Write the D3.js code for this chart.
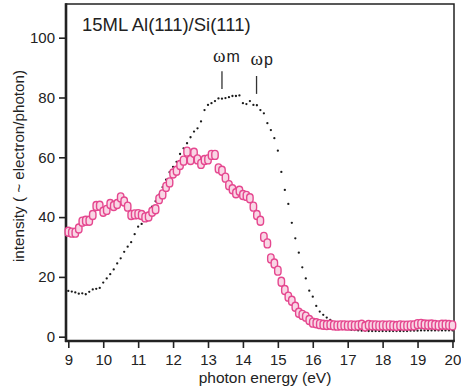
<!DOCTYPE html>
<html>
<head>
<meta charset="utf-8">
<script src="https://cdn.jsdelivr.net/npm/d3@7"></script>
<style>
  body { margin: 0; background: #fff; }
  text { font-family: Helvetica, Arial, "Liberation Sans", sans-serif; fill: #222; }
</style>
</head>
<body>
<svg id="chart" width="461" height="388"></svg>
<script>
// photon energy grid (eV)
const energy = [
  9.0, 9.1, 9.2, 9.3, 9.4, 9.5, 9.6, 9.7, 9.8, 9.9,
  10.0, 10.1, 10.2, 10.3, 10.4, 10.5, 10.6, 10.7, 10.8, 10.9,
  11.0, 11.1, 11.2, 11.3, 11.4, 11.5, 11.6, 11.7, 11.8, 11.9,
  12.0, 12.1, 12.2, 12.3, 12.4, 12.5, 12.6, 12.7, 12.8, 12.9,
  13.0, 13.1, 13.2, 13.3, 13.4, 13.5, 13.6, 13.7, 13.8, 13.9,
  14.0, 14.1, 14.2, 14.3, 14.4, 14.5, 14.6, 14.7, 14.8, 14.9,
  15.0, 15.1, 15.2, 15.3, 15.4, 15.5, 15.6, 15.7, 15.8, 15.9,
  16.0, 16.1, 16.2, 16.3, 16.4, 16.5, 16.6, 16.7, 16.8, 16.9,
  17.0, 17.1, 17.2, 17.3, 17.4, 17.5, 17.6, 17.7, 17.8, 17.9,
  18.0, 18.1, 18.2, 18.3, 18.4, 18.5, 18.6, 18.7, 18.8, 18.9,
  19.0, 19.1, 19.2, 19.3, 19.4, 19.5, 19.6, 19.7, 19.8, 19.9,
  20.0
];

// pink markers
const pinkSeries = [
  35.1, 34.8, 34.8, 36.2, 38.5, 38.8, 38.8, 40.7, 43.7, 43.8,
  41.8, 42.4, 44.4, 43.7, 44.4, 46.6, 45.2, 43.5, 40.7, 40.9,
  41.0, 40.7, 39.9, 40.2, 41.8, 42.6, 46.0, 47.6, 50.1, 51.6,
  54.6, 55.5, 57.4, 58.9, 61.9, 59.1, 61.5, 59.3, 57.8, 59.1,
  59.3, 60.8, 60.8, 56.3, 55.5, 53.2, 50.7, 49.3, 48.0, 48.8,
  47.4, 47.1, 46.3, 43.5, 40.7, 38.8, 33.4, 31.2, 26.2, 24.5,
  22.1, 18.4, 15.6, 13.4, 12.0, 10.0, 8.0, 7.3, 6.7, 5.6,
  4.7, 4.5, 4.2, 4.0, 3.9, 4.0, 3.8, 3.7, 3.8, 3.8,
  3.7, 3.8, 3.7, 3.8, 4.0, 3.4, 3.9, 3.8, 3.8, 3.7,
  3.8, 3.7, 3.8, 3.7, 3.6, 3.8, 3.7, 3.7, 3.8, 3.8,
  4.2, 4.3, 4.1, 4.0, 4.1, 3.9, 3.8, 4.0, 4.0, 3.9,
  3.8
];

// black dotted series
const dotSeries = [
  15.3, 15.1, 14.8, 14.4, 14.5, 14.2, 15.0, 15.8, 16.0, 16.3,
  18.1, 19.5, 20.9, 22.5, 24.5, 26.2, 28.4, 30.1, 31.6, 34.3,
  36.8, 37.7, 39.5, 41.5, 43.5, 45.3, 47.5, 50.0, 52.5, 55.0,
  56.8, 58.5, 61.1, 63.0, 64.7, 66.7, 68.6, 69.7, 72.0, 75.8,
  77.5, 78.1, 78.8, 79.7, 79.6, 79.8, 80.1, 80.5, 80.5, 80.7,
  78.1, 77.8, 78.8, 77.5, 77.4, 75.8, 74.7, 71.4, 69.1, 66.4,
  62.2, 55.1, 49.1, 44.4, 38.1, 32.9, 28.1, 23.2, 19.5, 15.4,
  13.4, 10.3, 8.4, 7.3, 6.4, 5.6, 4.6, 3.8, 3.2, 2.8,
  2.5, 2.3, 2.2, 2.1, 2.0, 2.0, 1.9, 1.9, 1.9, 1.9,
  1.9, 1.9, 1.9, 1.9, 1.9, 1.9, 1.9, 1.9, 2.0, 2.0,
  2.0, 2.1, 2.1, 2.1, 2.1, 2.1, 2.1, 2.1, 2.1, 2.1,
  2.1
];

const xTicks = [9, 10, 11, 12, 13, 14, 15, 16, 17, 18, 19, 20];
const yTicks = [0, 20, 40, 60, 80, 100];

// omega markers: energy, subscript, top / bottom of the tick (intensity units)
const omegaMarks = [
  { e: 13.4, sub: "m", top: 88.8, bottom: 82.8 },
  { e: 14.39, sub: "p", top: 87.2, bottom: 81.2 }
];

const svg = d3.select("#chart");
const frame = { left: 66, right: 454, top: 4, bottom: 341 };

const x = d3.scaleLinear().domain([8.934, 20.044]).range([frame.left, frame.right]);
const y = d3.scaleLinear().domain([-1.44, 111.27]).range([frame.bottom, frame.top]);

// axes
const xAxis = d3.axisBottom(x).tickValues(xTicks).tickSize(7).tickSizeOuter(0).tickPadding(6);
const yAxis = d3.axisLeft(y).tickValues(yTicks).tickSize(7).tickSizeOuter(0).tickPadding(4);

const gx = svg.append("g").attr("transform", `translate(0,${frame.bottom})`).call(xAxis);
const gy = svg.append("g").attr("transform", `translate(${frame.left},0)`).call(yAxis);
[gx, gy].forEach(g => {
  g.select(".domain").remove();
  g.selectAll(".tick line").attr("stroke", "#222").attr("stroke-width", 1.6);
  g.selectAll(".tick text")
    .attr("fill", "#222")
    .style("font-size", "15px")
    .style("font-family", "Helvetica, Arial, 'Liberation Sans', sans-serif");
});

// frame
svg.append("rect")
  .attr("x", frame.left).attr("y", frame.top)
  .attr("width", frame.right - frame.left).attr("height", frame.bottom - frame.top)
  .attr("fill", "none").attr("stroke", "#222").attr("stroke-width", 1.5);
svg.append("line")
  .attr("x1", frame.left).attr("x2", frame.left)
  .attr("y1", frame.top - 0.75).attr("y2", frame.bottom + 1)
  .attr("stroke", "#222").attr("stroke-width", 2.6);
svg.append("line")
  .attr("x1", frame.left - 1).attr("x2", frame.right + 0.75)
  .attr("y1", frame.bottom).attr("y2", frame.bottom)
  .attr("stroke", "#222").attr("stroke-width", 2.6);

// black dots
svg.append("g").selectAll("circle")
  .data(energy.map((e, i) => [e, dotSeries[i]]))
  .join("circle")
  .attr("cx", d => x(d[0]))
  .attr("cy", d => y(d[1]))
  .attr("r", 1.15)
  .attr("fill", "#1a1a1a");

// pink markers
svg.append("g").selectAll("rect")
  .data(energy.map((e, i) => [e, pinkSeries[i]]))
  .join("rect")
  .attr("x", d => x(d[0]) - 3.2)
  .attr("y", d => y(d[1]) - 4.5)
  .attr("width", 6.4)
  .attr("height", 9)
  .attr("rx", 3.2)
  .attr("fill", "#f9d6e5")
  .attr("stroke", "#e5478f")
  .attr("stroke-width", 1.4);

// omega annotations
omegaMarks.forEach((m, i) => {
  const cx = x(m.e);
  svg.append("line")
    .attr("x1", cx).attr("x2", cx)
    .attr("y1", y(m.top)).attr("y2", y(m.bottom))
    .attr("stroke", "#333").attr("stroke-width", 1.3);
  const t = svg.append("text")
    .attr("x", cx - (i === 0 ? 9 : 6))
    .attr("y", y(m.top) - (i === 0 ? 9 : 10.5));
  t.append("tspan").text("ω")
    .style("font-family", "'Liberation Serif', 'DejaVu Serif', serif")
    .style("font-size", "19px");
  t.append("tspan").text(m.sub)
    .attr("dx", 1)
    .style("font-size", "16px");
});

// title
svg.append("text")
  .attr("x", 82).attr("y", 31)
  .style("font-size", "18.5px")
  .text("15ML Al(111)/Si(111)");

// axis titles
svg.append("text")
  .attr("x", (frame.left + frame.right) / 2 + 5).attr("y", 383)
  .attr("text-anchor", "middle")
  .style("font-size", "15.5px")
  .text("photon energy (eV)");

svg.append("text")
  .attr("transform", "translate(24,166) rotate(-90)")
  .attr("text-anchor", "middle")
  .style("font-size", "15.2px")
  .text("intensity ( ~ electron/photon)");
</script>
</body>
</html>
